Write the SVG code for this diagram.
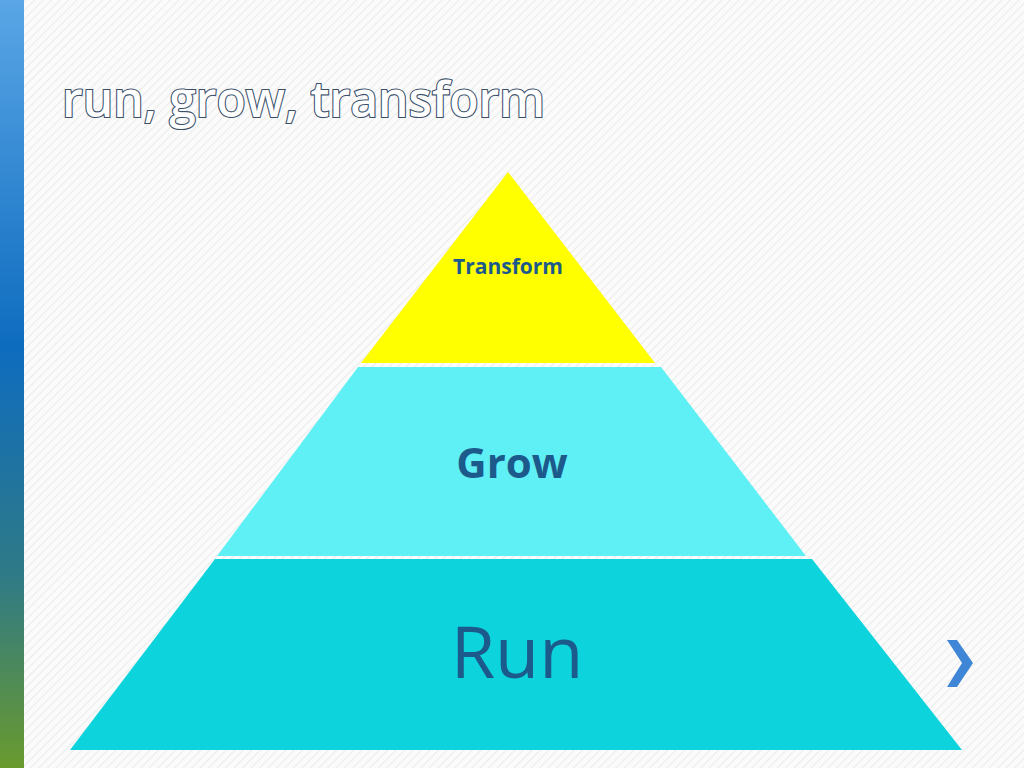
<svg xmlns="http://www.w3.org/2000/svg" width="1024" height="768" viewBox="0 0 1024 768">
<defs>
<pattern id="hatch" width="6" height="6" patternUnits="userSpaceOnUse" patternTransform="rotate(45)">
<rect width="6" height="6" fill="#fbfbfb"/><line x1="0" y1="0" x2="0" y2="6" stroke="#e6e6e6" stroke-width="1.5"/>
</pattern>
<linearGradient id="bar" x1="0" y1="0" x2="0" y2="1">
<stop offset="0" stop-color="#5aa6e6"/><stop offset="0.45" stop-color="#0e6cbf"/><stop offset="0.75" stop-color="#2f7a86"/><stop offset="1" stop-color="#6a9a2e"/>
</linearGradient>
<style>
.lbl{font-family:"Open Sans","Liberation Sans",sans-serif;fill:#1d5a8c;text-anchor:middle}
</style>
</defs>
<rect width="1024" height="768" fill="url(#hatch)"/>
<rect x="0" y="0" width="24" height="768" fill="url(#bar)"/>
<text x="62" y="117" font-family="Open Sans, Liberation Sans, sans-serif" font-size="48" font-weight="600" fill="#ffffff" stroke="#3a4f6a" stroke-width="2.2" paint-order="stroke">run, grow, transform</text>
<g id="transform">
<polygon points="508,172 655,363 361,363" fill="#ffff00"/>
<text class="lbl" x="508" y="274" font-size="21" font-weight="bold">Transform</text>
</g>
<g id="grow">
<polygon points="358,367 661,367 806,556 217,556" fill="#5ff0f5"/>
<text class="lbl" x="512" y="478" font-size="42" font-weight="bold">Grow</text>
</g>
<g id="run">
<polygon points="215,559 812,559 962,750 70,750" fill="#0cd3dc"/>
<text class="lbl" x="517" y="678" font-size="72">Run</text>
</g>
<g id="connectors"/>
<polygon points="947,640 957,640 973,663 957,687 947,687 962,663" fill="#3f86d6"/>
</svg>
